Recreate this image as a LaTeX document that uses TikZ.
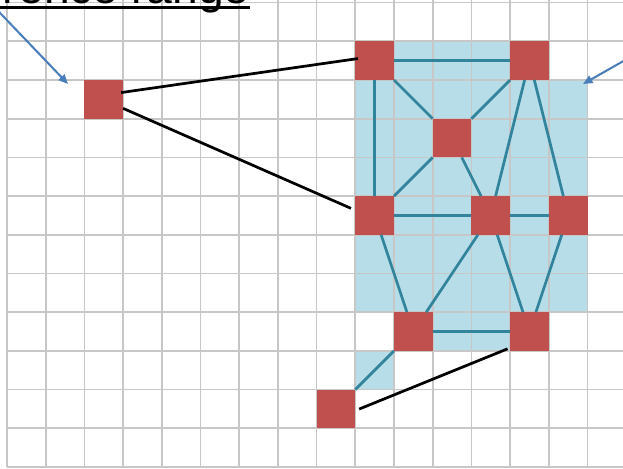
\documentclass[tikz,border=0pt]{standalone}
\usepackage{fontspec}
\setmainfont{Liberation Sans}
\usetikzlibrary{arrows.meta}
\definecolor{nodered}{HTML}{C0504D}
\definecolor{zoneblue}{HTML}{B7DDE8}
\definecolor{linkteal}{HTML}{31849B}
\definecolor{arrowblue}{HTML}{4A7EBB}

\begin{document}
\begin{tikzpicture}[
  x=1cm, y=1cm,
  cell/.style={fill=nodered, minimum size=1cm, inner sep=0pt, outer sep=0pt},
  link/.style={draw=linkteal, line width=2pt},
  hop/.style={draw=black, line width=2pt},
  pointer/.style={draw=arrowblue, line width=1.5pt, -{Triangle[length=7pt,width=6pt]}},
]
  % 画布范围：网格原点在左下
  \useasboundingbox (-0.181,-0.026) rectangle (15.917,12.067);
  \clip (-0.181,-0.026) rectangle (15.917,12.067);

  % 浅蓝覆盖区
  \fill[zoneblue] (9,4) rectangle (15,10)
                  (9,10) rectangle (14,11)
                  (10,3) rectangle (14,4)
                  (9,2) rectangle (10,3);

  % 网格
  \draw[black!22, line width=1.2pt] (0,0) grid (16.5,12.5);

  % 红色节点（每个占一格）
  \node[cell] (far) at (2.5,9.5) {};   % 左侧孤立节点
  \node[cell] (nTL) at (9.5,10.5) {};
  \node[cell] (nTR) at (13.5,10.5) {};
  \node[cell] (nC)  at (11.5,8.5) {};
  \node[cell] (nML) at (9.5,6.5) {};
  \node[cell] (nMM) at (12.5,6.5) {};
  \node[cell] (nMR) at (14.5,6.5) {};
  \node[cell] (nLL) at (10.5,3.5) {};
  \node[cell] (nLR) at (13.5,3.5) {};
  \node[cell] (low) at (8.5,1.5) {};   % 下方节点

  % 区域内的连线
  \draw[link] (nTL) -- (nTR);
  \draw[link] (nTL) -- (nC);
  \draw[link] (nTR) -- (nC);
  \draw[link] (nTL) -- (nML);
  \draw[link] (nC) -- (nML);
  \draw[link] (nC) -- (nMM);
  \draw[link] (nTR) -- (nMM);
  \draw[link] (nTR) -- (nMR);
  \draw[link] (nML) -- (nMM);
  \draw[link] (nMM) -- (nMR);
  \draw[link] (nML) -- (nLL);
  \draw[link] (nMM) -- (nLL);
  \draw[link] (nMM) -- (nLR);
  \draw[link] (nMR) -- (nLR);
  \draw[link] (nLL) -- (nLR);
  \draw[link] (low) -- (nLL);

  % 远距离连线（黑色）
  \draw[hop, shorten <=-1.5pt, shorten >=-2pt] (far.20) -- (nTL.175);
  \draw[hop, shorten >=3.5pt] (far.-25) -- (nML.165);
  \draw[hop, shorten <=3pt, shorten >=2pt] (low.-5) -- (nLR.220);

  % 顶部标题（大部分在画面外）
  \node[anchor=base east, inner sep=0pt, font=\fontsize{34}{40}\selectfont]
    (title) at (6.279,11.964) {Interference range};
  \draw[line width=2.2pt] ([yshift=-2.6pt]title.base west) -- ([yshift=-2.6pt]title.base east);

  % 蓝色指示箭头
  \coordinate (tailA) at (-0.708,12.283);
  \coordinate (tipA) at (1.576,9.897);
  \coordinate (tailB) at (16.615,10.879);
  \coordinate (tipB) at (14.884,9.897);
  \draw[pointer] (tailA) -- (tipA);
  \draw[pointer] (tailB) -- (tipB);
\end{tikzpicture}
\end{document}
